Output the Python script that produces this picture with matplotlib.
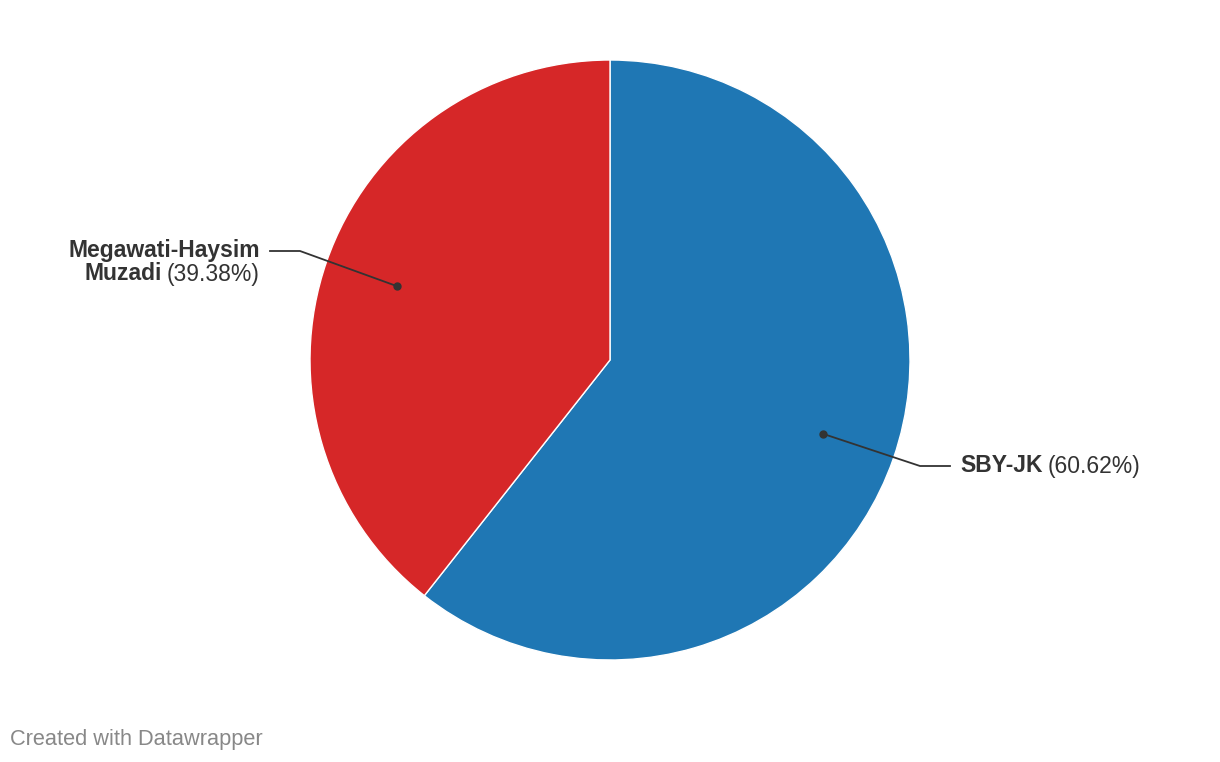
import matplotlib
matplotlib.use("Agg")
import matplotlib.pyplot as plt
import numpy as np

labels = ["SBY-JK", "Megawati-Haysim\nMuzadi"]
values = [60.62, 39.38]
colors = ["#1f77b4", "#d62728"]

W, H = 1220, 762
fig = plt.figure(figsize=(W / 100, H / 100), dpi=100)
ax = fig.add_axes([0, 0, 1, 1])
ax.set_xlim(0, W)
ax.set_ylim(0, H)
ax.set_aspect("equal")
ax.axis("off")

cx, cy, R = 610, H - 360, 300
ax.pie(values, colors=colors, startangle=90, counterclock=False,
       center=(cx, cy), radius=R, frame=True,
       wedgeprops=dict(edgecolor="white", linewidth=1.0))
ax.set_xlim(0, W)
ax.set_ylim(0, H)
ax.axis("off")

# dot positions at 0.75 R along mid-angle
cum = np.cumsum([0] + values)
total = sum(values)
mids = [90 - 360 * (cum[i] + values[i] / 2) / total for i in range(len(values))]
dots = [(cx + 0.75 * R * np.cos(np.radians(a)), cy + 0.75 * R * np.sin(np.radians(a))) for a in mids]

tc = "#333333"
fs = 16.5
font = "Liberation Sans"

# SBY-JK label (right side)
d = dots[0]
ly = H - 466
ax.plot([d[0], 920, 950], [d[1], ly, ly], color=tc, lw=1.3, zorder=5)
ax.plot(*d, "o", color=tc, ms=5, zorder=6)
t1 = ax.text(960, ly, labels[0], fontsize=fs, fontweight="bold", family=font,
             color=tc, ha="left", va="center")
fig.canvas.draw()
r = fig.canvas.get_renderer()
bb = t1.get_window_extent(r)
ax.text(bb.x1 + 5, ly, f"({values[0]:.2f}%)", fontsize=fs, family=font,
        color=tc, ha="left", va="center")

# Megawati label (left side)
d = dots[1]
ly1 = H - 251
ax.plot([270, 300, d[0]], [ly1, ly1, d[1]], color=tc, lw=1.3, zorder=5)
ax.plot(*d, "o", color=tc, ms=5, zorder=6)
line1, line2 = labels[1].split("\n")
ax.text(260, ly1, line1, fontsize=fs, fontweight="bold", family=font,
        color=tc, ha="right", va="center")
ly2 = H - 274
tp = ax.text(260, ly2, f"({values[1]:.2f}%)", fontsize=fs, family=font,
             color=tc, ha="right", va="center")
fig.canvas.draw()
bb = tp.get_window_extent(r)
ax.text(bb.x0 - 5, ly2, line2, fontsize=fs, fontweight="bold", family=font,
        color=tc, ha="right", va="center")

fig.text(10 / W, 1 - 739 / H, "Created with Datawrapper", fontsize=15.7, family=font,
         color="#888888", ha="left", va="center")

fig.savefig("out.png", dpi=100, facecolor="white")
